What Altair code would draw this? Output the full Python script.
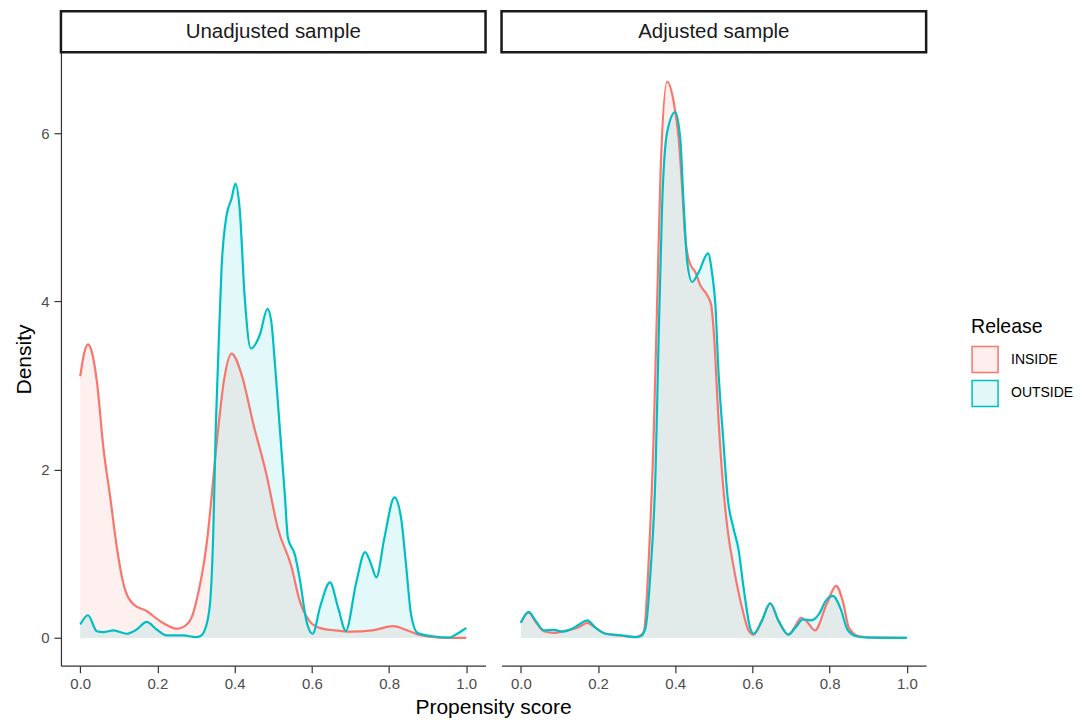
import altair as alt
import pandas as pd

panels = ["Unadjusted sample", "Adjusted sample"]
releases = ["INSIDE", "OUTSIDE"]
colors = ["#F8766D", "#00BFC4"]
x_ticks = [0.0, 0.2, 0.4, 0.6, 0.8, 1.0]
y_ticks = [0, 2, 4, 6]
x_title = "Propensity score"
y_title = "Density"
legend_title = "Release"

# Unadjusted sample, INSIDE
ua_in_x = [0.0, 0.01, 0.02, 0.03, 0.043, 0.06, 0.078, 0.095, 0.112, 0.138, 0.172, 0.207,
           0.25, 0.276, 0.29, 0.30, 0.327, 0.357, 0.372, 0.392, 0.418, 0.448, 0.482, 0.512,
           0.547, 0.568, 0.594, 0.62, 0.66, 0.70, 0.757, 0.81, 0.853, 0.879, 0.93, 1.0]
ua_in_d = [3.11, 3.38, 3.49, 3.40, 3.05, 2.26, 1.66, 1.07, 0.64, 0.40, 0.32, 0.20,
           0.11, 0.16, 0.26, 0.42, 1.10, 2.47, 3.05, 3.38, 3.13, 2.55, 1.95, 1.30,
           0.85, 0.45, 0.20, 0.12, 0.09, 0.075, 0.09, 0.14, 0.08, 0.035, 0.005, 0.0]

# Unadjusted sample, OUTSIDE
ua_out_x = [0.0, 0.02, 0.043, 0.06, 0.086, 0.12, 0.146, 0.172, 0.198, 0.224, 0.267, 0.30,
            0.31, 0.323, 0.336, 0.345, 0.351, 0.357, 0.366, 0.379, 0.392, 0.402, 0.413,
            0.426, 0.442, 0.465, 0.485, 0.495, 0.504, 0.517, 0.530, 0.538, 0.556, 0.568,
            0.586, 0.602, 0.622, 0.647, 0.668, 0.688, 0.715, 0.738, 0.754, 0.767, 0.788,
            0.814, 0.831, 0.844, 0.857, 0.874, 0.913, 0.956, 0.973, 1.0]
ua_out_d = [0.16, 0.27, 0.08, 0.07, 0.09, 0.05, 0.10, 0.19, 0.10, 0.03, 0.03, 0.01,
            0.02, 0.10, 0.40, 1.31, 2.49, 3.28, 4.39, 5.02, 5.22, 5.40, 5.10,
            4.05, 3.44, 3.60, 3.91, 3.76, 3.28, 2.49, 1.70, 1.19, 0.99, 0.72,
            0.20, 0.05, 0.38, 0.66, 0.36, 0.085, 0.66, 1.02, 0.87, 0.72, 1.19,
            1.67, 1.43, 0.87, 0.28, 0.06, 0.02, 0.005, 0.04, 0.12]

# Adjusted sample, INSIDE
ad_in_x = [0.0, 0.02, 0.04, 0.06, 0.086, 0.12, 0.151, 0.172, 0.194, 0.22, 0.254, 0.297,
           0.31, 0.319, 0.332, 0.344, 0.353, 0.362, 0.379, 0.396, 0.409, 0.418, 0.426,
           0.438, 0.452, 0.465, 0.482, 0.493, 0.501, 0.51, 0.521, 0.534, 0.551, 0.573,
           0.59, 0.603, 0.624, 0.646, 0.668, 0.693, 0.711, 0.726, 0.74, 0.762, 0.792,
           0.817, 0.835, 0.85, 0.876, 0.92, 1.0]
ad_in_d = [0.18, 0.30, 0.18, 0.08, 0.06, 0.09, 0.13, 0.18, 0.12, 0.05, 0.03, 0.01,
           0.03, 0.08, 0.99, 2.38, 3.96, 5.54, 6.61, 6.37, 5.93, 5.34, 4.75,
           4.45, 4.35, 4.19, 4.08, 3.96, 3.56, 2.77, 1.98, 1.35, 0.85, 0.36,
           0.09, 0.04, 0.20, 0.41, 0.20, 0.04, 0.14, 0.24, 0.20, 0.09, 0.40,
           0.62, 0.42, 0.12, 0.02, 0.003, 0.0]

# Adjusted sample, OUTSIDE
ad_out_x = [0.0, 0.02, 0.039, 0.06, 0.086, 0.108, 0.129, 0.151, 0.172, 0.194, 0.22, 0.254,
            0.297, 0.31, 0.323, 0.336, 0.349, 0.357, 0.366, 0.379, 0.40, 0.413, 0.422,
            0.431, 0.444, 0.461, 0.485, 0.495, 0.504, 0.512, 0.524, 0.536, 0.551, 0.564,
            0.577, 0.594, 0.603, 0.624, 0.646, 0.668, 0.693, 0.711, 0.731, 0.752, 0.772,
            0.79, 0.808, 0.829, 0.846, 0.87, 0.9, 1.0]
ad_out_d = [0.18, 0.31, 0.20, 0.09, 0.095, 0.075, 0.10, 0.16, 0.21, 0.12, 0.05, 0.035,
            0.01, 0.02, 0.12, 0.79, 1.98, 3.56, 5.14, 6.01, 6.25, 5.93, 5.14,
            4.47, 4.23, 4.35, 4.57, 4.35, 3.96, 3.17, 2.38, 1.66, 1.30, 1.05,
            0.60, 0.12, 0.05, 0.20, 0.41, 0.20, 0.04, 0.12, 0.22, 0.21, 0.28,
            0.44, 0.50, 0.34, 0.10, 0.02, 0.003, 0.0]

series = [
    (panels[0], releases[0], ua_in_x, ua_in_d),
    (panels[0], releases[1], ua_out_x, ua_out_d),
    (panels[1], releases[0], ad_in_x, ad_in_d),
    (panels[1], releases[1], ad_out_x, ad_out_d),
]
rows = []
for p, r, xs, ds in series:
    for xv, dv in zip(xs, ds):
        rows.append({"panel": p, "Release": r, "x": xv, "density": dv})
df = pd.DataFrame(rows)

W, H = 425, 614
XDOM = [-0.05, 1.05]
YDOM = [-0.33, 6.96]
AXIS_COLOR = "#333333"
LABEL_COLOR = "#4d4d4d"
FILL_OPACITY = 0.11

fill_scale = alt.Scale(domain=releases, range=colors)
# same colour mapping, listed in the other order so that the outline legend stays separate
stroke_scale = alt.Scale(domain=releases[::-1], range=colors[::-1])

LEG_X, LEG_Y = 470, 266
common_leg = dict(orient="none", legendX=LEG_X, legendY=LEG_Y,
                  titleFontSize=19.5, titleFontWeight="normal", titleColor="black",
                  labelFontSize=14, labelColor="black", symbolType="square",
                  symbolSize=676, symbolStrokeWidth=1.5, rowPadding=2, labelOffset=12,
                  titlePadding=8, padding=0, values=releases)
fill_legend = alt.Legend(title=legend_title, symbolOpacity=FILL_OPACITY,
                         symbolStrokeColor="transparent", **common_leg)
stroke_legend = alt.Legend(title=" ", labelExpr="''", symbolFillColor="transparent",
                           symbolOpacity=1, **common_leg)


def panel_chart(panel, show_y, show_legend):
    data = df[df.panel == panel]
    xenc = alt.X(
        "x:Q",
        scale=alt.Scale(domain=XDOM, nice=False, zero=False),
        axis=alt.Axis(values=x_ticks, format=".1f", title=None, grid=False,
                      labelFontSize=15, labelColor=LABEL_COLOR, labelPadding=4,
                      tickSize=7, tickColor=AXIS_COLOR, tickWidth=1.2,
                      domainColor=AXIS_COLOR, domainWidth=1.2, labelFlush=False),
    )
    if show_y:
        yaxis = alt.Axis(values=y_ticks, title=y_title, grid=False,
                         labelFontSize=15, labelColor=LABEL_COLOR, labelPadding=5,
                         tickSize=7, tickColor=AXIS_COLOR, tickWidth=1.2,
                         domainColor=AXIS_COLOR, domainWidth=1.2,
                         titleFontSize=21, titleFontWeight="normal", titleColor="black",
                         titlePadding=6)
    else:
        yaxis = None
    yenc = alt.Y("density:Q", scale=alt.Scale(domain=YDOM, nice=False, zero=False),
                 axis=yaxis, stack=None)

    if show_legend:
        fill_enc = alt.Fill("Release:N", scale=fill_scale, legend=fill_legend)
        stroke_enc = alt.Stroke("Release:N", scale=stroke_scale, legend=stroke_legend)
    else:
        fill_enc = alt.Fill("Release:N", scale=fill_scale, legend=None)
        stroke_enc = alt.Stroke("Release:N", scale=stroke_scale, legend=None)

    area = alt.Chart(data).mark_area(fillOpacity=FILL_OPACITY, interpolate="monotone").encode(
        x=xenc, y=yenc, y2=alt.Y2(datum=0), fill=fill_enc,
    )
    line = alt.Chart(data).mark_line(strokeWidth=2.2, interpolate="monotone").encode(
        x=xenc, y=yenc, stroke=stroke_enc,
    )
    strip_df = pd.DataFrame({"label": [panel]})
    strip_rect = alt.Chart(strip_df).mark_rect(fill="white", stroke="#1a1a1a", strokeWidth=2.5).encode(
        x=alt.value(0), x2=alt.value(W), y=alt.value(-41), y2=alt.value(0)
    )
    strip_text = alt.Chart(strip_df).mark_text(fontSize=20.5, color="#1a1a1a", baseline="middle").encode(
        x=alt.value(W / 2), y=alt.value(-20), text="label:N"
    )
    layers = [area, line, strip_rect, strip_text]
    if show_y:
        xt_df = pd.DataFrame({"label": [x_title]})
        xt = alt.Chart(xt_df).mark_text(fontSize=21, color="black", baseline="middle").encode(
            x=alt.value(433), y=alt.value(656), text="label:N"
        )
        layers.append(xt)
    return alt.layer(*layers).properties(width=W, height=H)


left = panel_chart(panels[0], True, False)
right = panel_chart(panels[1], False, True)

chart = (
    alt.hconcat(left, right, spacing=16, bounds="flush")
    .resolve_scale(fill="independent", stroke="independent")
    .properties(padding={"left": 5, "top": 1, "right": 0, "bottom": 5})
    .configure(font="Liberation Sans")
    .configure_view(stroke=None)
)

chart.save("out.html", embed_options={"renderer": "svg", "actions": False})
